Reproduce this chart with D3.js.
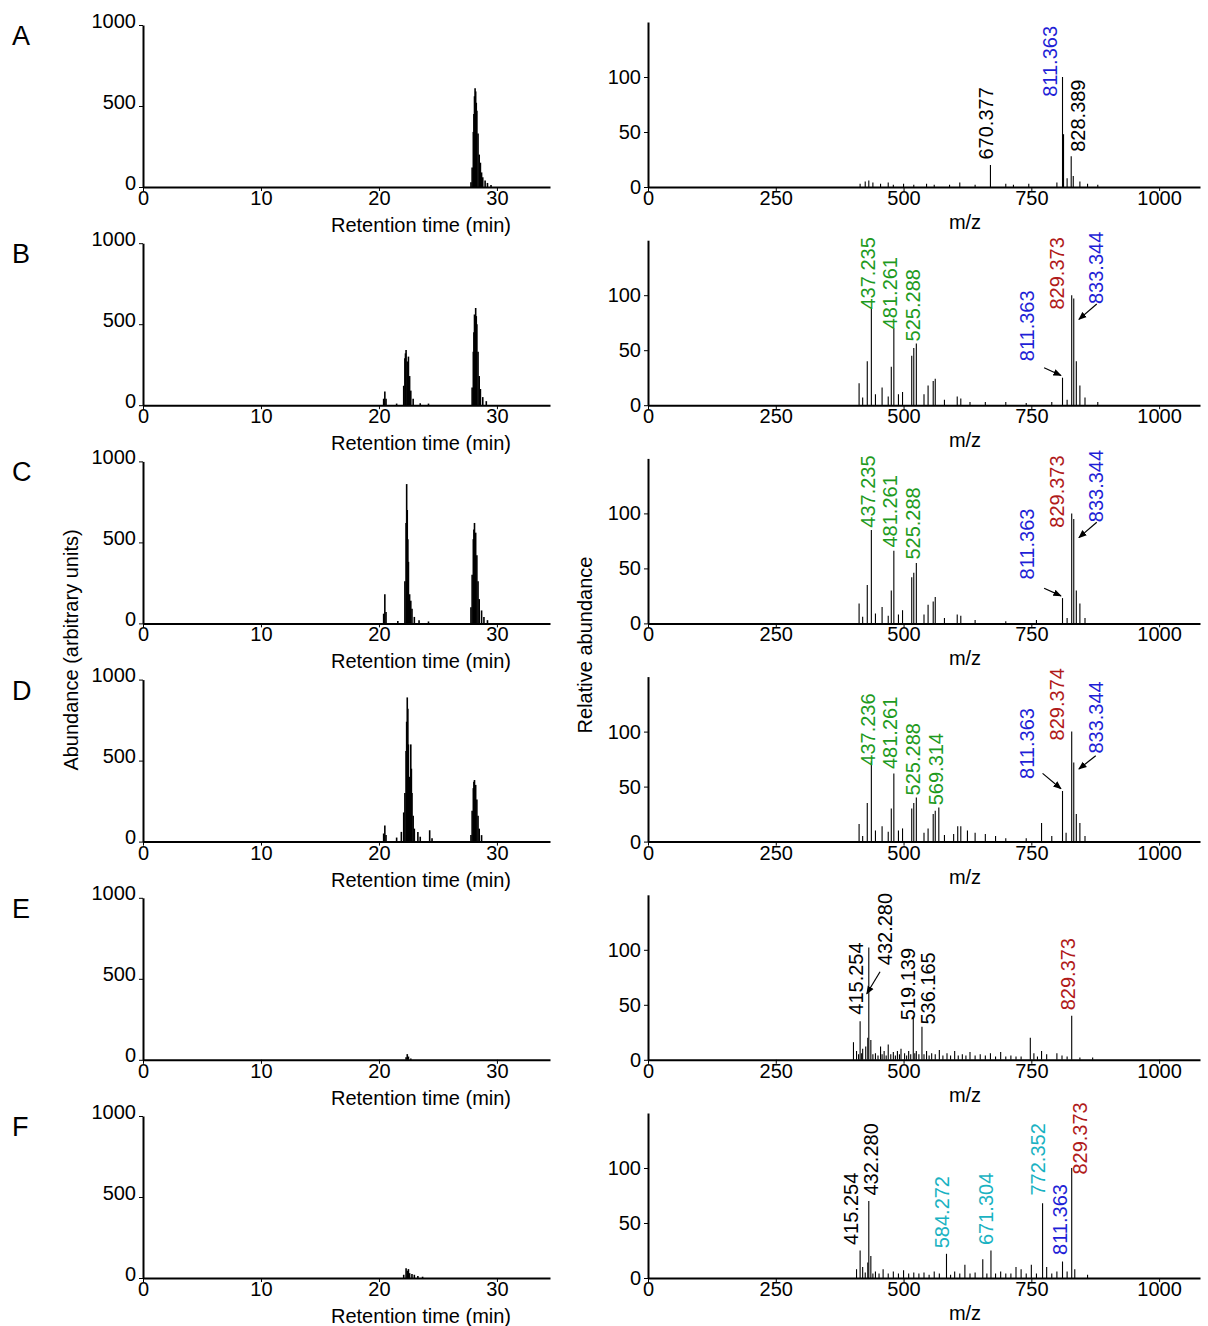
<!DOCTYPE html>
<html>
<head>
<meta charset="utf-8">
<script src="https://d3js.org/d3.v7.min.js"></script>
<style>
  body { margin:0; background:#fff; }
  text { font-family: Arial, "Liberation Sans", sans-serif; }
</style>
</head>
<body>
<svg id="fig" width="1208" height="1326"></svg>
<script>
const panels = ["A", "B", "C", "D", "E", "F"];
const timeTicks = [0, 10, 20, 30];
const abundTicks = [0, 500, 1000];
const mzTicks = [0, 250, 500, 750, 1000];
const relTicks = [0, 50, 100];

// chromatograms: [retention time (min), abundance]
const chromA = [[27.8,30],[27.9,120],[28.0,340],[28.05,450],[28.1,560],[28.15,610],[28.2,590],[28.25,520],[28.3,470],[28.4,330],[28.5,200],[28.6,150],[28.7,90],[28.8,60],[29.0,40],[29.2,25],[29.5,12]];
const chromB = [[20.4,40],[20.5,85],[20.6,40],[21.5,10],[22.1,120],[22.2,290],[22.25,320],[22.3,340],[22.4,270],[22.5,300],[22.6,180],[22.7,90],[22.9,40],[23.5,12],[24.2,10],[27.9,110],[28.0,330],[28.05,450],[28.1,560],[28.2,600],[28.25,550],[28.3,500],[28.4,330],[28.5,180],[28.6,100],[28.8,50],[29.1,25]];
const chromC = [[20.4,60],[20.5,180],[20.6,70],[21.6,15],[22.2,260],[22.3,620],[22.35,860],[22.4,700],[22.45,520],[22.5,380],[22.6,180],[22.7,140],[22.8,90],[23.0,40],[23.4,20],[24.2,12],[27.8,100],[27.9,300],[28.0,520],[28.05,580],[28.1,620],[28.2,560],[28.3,420],[28.4,260],[28.5,150],[28.7,80],[28.9,40],[29.2,20]];
const chromD = [[20.4,50],[20.5,100],[20.6,40],[21.5,25],[21.9,60],[22.1,180],[22.2,300],[22.3,560],[22.35,740],[22.4,890],[22.45,820],[22.5,600],[22.6,400],[22.7,600],[22.75,450],[22.8,300],[22.9,160],[23.0,80],[23.3,60],[23.5,30],[24.3,70],[24.5,20],[27.8,40],[27.9,190],[28.0,330],[28.05,370],[28.1,380],[28.2,350],[28.3,260],[28.4,160],[28.5,80],[28.7,40]];
const chromE = [[22.3,15],[22.4,35],[22.5,20],[22.7,8]];
const chromF = [[22.1,20],[22.3,60],[22.4,45],[22.5,55],[22.6,30],[22.8,25],[23.0,20],[23.3,12],[23.7,8]];

// spectra: [m/z, relative abundance]
const specA = [[415,3],[425,5],[432,6],[440,4],[455,3],[470,4],[480,2],[500,3],[520,2],[545,3],[560,2],[590,2],[610,4],[640,2],[670,20],[700,3],[715,2],[745,3],[800,4],[811,100],[813,48],[820,8],[828,28],[832,10],[845,5],[860,3],[880,2]];
const specB = [[413,20],[420,7],[429,40],[437,88],[445,10],[458,16],[470,8],[476,35],[481,70],[490,10],[498,12],[516,45],[520,52],[525,56],[540,10],[548,18],[558,22],[562,24],[580,5],[605,8],[612,6],[630,3],[660,3],[700,3],[740,2],[790,3],[811,25],[820,5],[829,100],[833,97],[838,40],[845,18],[855,7],[880,3]];
const specC = [[413,18],[420,6],[429,35],[437,85],[445,9],[458,15],[470,7],[476,30],[481,66],[490,8],[498,12],[516,42],[520,46],[525,55],[540,8],[548,17],[558,20],[562,24],[580,5],[605,8],[612,7],[640,3],[700,2],[760,3],[811,23],[820,5],[829,100],[833,95],[838,30],[845,18],[855,5]];
const specD = [[413,16],[420,5],[429,35],[437,73],[445,10],[458,14],[470,9],[476,30],[481,62],[490,10],[498,12],[516,30],[520,35],[525,40],[540,8],[548,12],[558,25],[562,28],[569,31],[580,6],[598,7],[606,14],[612,14],[625,10],[640,8],[660,7],[680,5],[700,3],[740,3],[770,17],[790,5],[811,46],[818,8],[829,100],[833,72],[838,25],[845,17],[855,5]];
const specE = [[402,16],[408,8],[412,5],[415,35],[418,6],[420,10],[426,12],[430,20],[432,102],[436,18],[440,5],[445,6],[450,4],[455,12],[458,5],[462,8],[466,4],[470,14],[475,5],[480,7],[484,4],[488,8],[492,5],[495,10],[502,6],[506,4],[510,8],[514,5],[519,40],[522,6],[525,8],[530,5],[536,30],[540,5],[545,8],[550,4],[555,6],[562,5],[570,9],[577,4],[585,6],[592,4],[600,8],[607,4],[615,5],[622,4],[630,7],[640,4],[650,5],[660,4],[670,6],[680,3],[690,7],[700,3],[710,4],[720,3],[730,3],[748,20],[755,6],[762,3],[770,8],[780,5],[800,6],[810,4],[820,3],[829,40],[845,2],[870,2]];
const specF = [[408,8],[415,25],[420,10],[425,5],[430,14],[432,70],[436,20],[440,4],[445,6],[452,4],[460,8],[470,4],[480,6],[490,4],[500,7],[510,4],[520,5],[530,4],[540,5],[550,3],[560,6],[570,4],[584,22],[592,3],[600,6],[610,4],[620,12],[630,4],[640,5],[655,17],[663,4],[671,25],[680,4],[690,6],[700,4],[710,4],[720,10],[730,8],[740,4],[750,12],[760,4],[772,68],[780,10],[790,4],[800,6],[811,15],[820,6],[829,100],[835,8],[860,3]];

// peak labels: [m/z anchor, abundance anchor, text, colour key]
const labA = [[661,25,"670.377","k"],[787,82,"811.363","b"],[841,32,"828.389","k"]];
const labB = [[430,87,"437.235","g"],[473,69,"481.261","g"],[519,58,"525.288","g"],[742,40,"811.363","b"],[800,87,"829.373","r"],[877,92,"833.344","b"]];
const labC = [[430,87,"437.235","g"],[473,69,"481.261","g"],[519,58,"525.288","g"],[742,40,"811.363","b"],[800,87,"829.373","r"],[877,92,"833.344","b"]];
const labD = [[430,69,"437.236","g"],[473,66,"481.261","g"],[519,42,"525.288","g"],[563,33,"569.314","g"],[742,57,"811.363","b"],[800,92,"829.374","r"],[877,80,"833.344","b"]];
const labE = [[407,41,"415.254","k"],[464,86,"432.280","k"],[509,36,"519.139","k"],[548,32,"536.165","k"],[822,45,"829.373","r"]];
const labF = [[397,30,"415.254","k"],[436,75,"432.280","k"],[575,27,"584.272","c"],[661,30,"671.304","c"],[763,75,"772.352","c"],[806,21,"811.363","b"],[845,94,"829.373","r"]];

// arrows: [from m/z, from abundance, to m/z, to abundance]
const arrB = [[775,34,808,27],[878,92,843,78]];
const arrC = [[775,32,808,25],[878,92,843,78]];
const arrD = [[772,62,808,48],[876,78,843,66]];
const arrE = [[454,80,428,60]];

const chroms = [chromA, chromB, chromC, chromD, chromE, chromF];
const specs = [specA, specB, specC, specD, specE, specF];
const labels = [labA, labB, labC, labD, labE, labF];
const arrows = [[], arrB, arrC, arrD, arrE, []];
const colors = {k:"#000", b:"#1f1fd6", g:"#1e9a1e", r:"#b01a1a", c:"#1ab2c2"};

const svg = d3.select("#fig");
svg.append("defs").append("marker").attr("id","ah")
  .attr("viewBox","0 0 10 10").attr("refX",9).attr("refY",5)
  .attr("markerWidth",7).attr("markerHeight",7).attr("orient","auto")
  .append("path").attr("d","M0,1L10,5L0,9Z").attr("fill","#000");

const x1 = d3.scaleLinear().domain([0, 34.5]).range([143, 550]);
const x2 = d3.scaleLinear().domain([0, 1080]).range([648, 1200]);
const fs = "20px";
const fmt = d3.format("d");

panels.forEach((p, i) => {
  const base = 187 + i * 218.2;
  const y1 = d3.scaleLinear().domain([0, 1000]).range([base, base - 162]);
  const y2 = d3.scaleLinear().domain([0, 150]).range([base, base - 165]);

  svg.append("text").attr("x", 12).attr("y", base - 142).attr("font-size", "27px").text(p);

  // chromatogram
  const gL = svg.append("g");
  gL.append("g").attr("transform", `translate(0,${base})`)
    .call(d3.axisBottom(x1).tickValues(timeTicks).tickFormat(fmt).tickSize(4).tickSizeOuter(0))
    .call(g => g.selectAll("text").attr("font-size", fs).attr("y", 3).attr("dy", "0.75em"));
  gL.append("g").attr("transform", "translate(143,0)")
    .call(d3.axisLeft(y1).tickValues(abundTicks).tickFormat(fmt).tickSize(4).tickSizeOuter(0))
    .call(g => g.selectAll("text").attr("font-size", fs).attr("x", -7).attr("dy", "0.1em"));
  gL.selectAll(".domain").attr("stroke-width", 2);
  gL.append("g").selectAll("line").data(chroms[i]).join("line")
    .attr("x1", d => x1(d[0])).attr("x2", d => x1(d[0]))
    .attr("y1", base).attr("y2", d => y1(d[1]))
    .attr("stroke", "#000").attr("stroke-width", 1.6);
  gL.append("text").attr("x", 421).attr("y", base + 45).attr("text-anchor", "middle")
    .attr("font-size", fs).text("Retention time (min)");

  // spectrum
  const gR = svg.append("g");
  gR.append("g").attr("transform", `translate(0,${base})`)
    .call(d3.axisBottom(x2).tickValues(mzTicks).tickFormat(fmt).tickSize(4).tickSizeOuter(0))
    .call(g => g.selectAll("text").attr("font-size", fs).attr("y", 3).attr("dy", "0.75em"));
  gR.append("g").attr("transform", "translate(648,0)")
    .call(d3.axisLeft(y2).tickValues(relTicks).tickFormat(fmt).tickSize(4).tickSizeOuter(0))
    .call(g => g.selectAll("text").attr("font-size", fs).attr("x", -7));
  gR.selectAll(".domain").attr("stroke-width", 2);
  gR.append("g").selectAll("line").data(specs[i]).join("line")
    .attr("x1", d => x2(d[0])).attr("x2", d => x2(d[0]))
    .attr("y1", base).attr("y2", d => y2(d[1]))
    .attr("stroke", "#000").attr("stroke-width", 1.1);
  gR.append("text").attr("x", 965).attr("y", base + 42).attr("text-anchor", "middle")
    .attr("font-size", fs).text("m/z");
  gR.append("g").selectAll("text").data(labels[i]).join("text")
    .attr("transform", d => `translate(${x2(d[0])},${y2(d[1])}) rotate(-90)`)
    .attr("dy", "0.35em").attr("font-size", "20px")
    .attr("fill", d => colors[d[3]]).text(d => d[2]);
  gR.append("g").selectAll("line").data(arrows[i]).join("line")
    .attr("x1", d => x2(d[0])).attr("y1", d => y2(d[1]))
    .attr("x2", d => x2(d[2])).attr("y2", d => y2(d[3]))
    .attr("stroke", "#000").attr("stroke-width", 1.2).attr("marker-end", "url(#ah)");
});

svg.append("text").attr("transform", "translate(78,650) rotate(-90)")
  .attr("text-anchor", "middle").attr("font-size", fs).text("Abundance (arbitrary units)");
svg.append("text").attr("transform", "translate(592,645) rotate(-90)")
  .attr("text-anchor", "middle").attr("font-size", fs).text("Relative abundance");
</script>
</body>
</html>
